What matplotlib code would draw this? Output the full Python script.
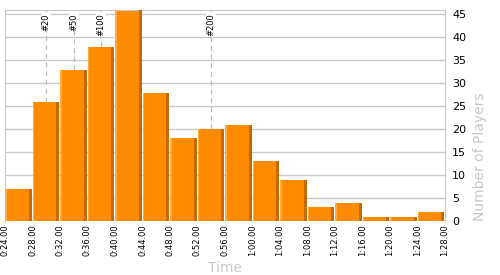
import numpy as np
import matplotlib
matplotlib.use("Agg")
import matplotlib.pyplot as plt

# ===== DATA =====
bin_start = 24          # seconds
bin_width = 4           # seconds
players = [7, 26, 33, 38, 46, 28, 18, 20, 21, 13, 9, 3, 4, 1, 1, 2]
rank_labels = ["#20", "#50", "#100", "#200"]
rank_times = [30.0, 34.0, 38.0, 54.0]   # seconds
y_ticks = [0, 5, 10, 15, 20, 25, 30, 35, 40, 45]

ORANGE = "#ff8c00"
ORANGE_LIGHT = "#ffab45"
ORANGE_DARK = "#c46a00"
GRID = "#c8c8c8"
LABEL = "#c8c8c8"


def fmt_time(sec):
    """0:24.00 style"""
    return "%d:%05.2f" % (sec // 60, sec % 60)


edges = [bin_start + i * bin_width for i in range(len(players) + 1)]

fig = plt.figure(figsize=(5, 2.75), dpi=100)
ax = fig.add_axes([0.01, 0.196, 0.88, 0.768])

# bars with a little fake 3d shading
gap = 0.05
w = bin_width - 2 * gap
ax.bar(edges[:-1], players, width=w, align="edge", color=ORANGE, linewidth=0, zorder=2)
ax.bar([e + gap for e in edges[:-1]], players, width=0.2, align="edge",
       color=ORANGE_LIGHT, linewidth=0, zorder=3)
ax.bar([e + w - 0.45 for e in edges[:-1]], players, width=0.45, align="edge",
       color=ORANGE_DARK, linewidth=0, zorder=3)

# rank markers
for lab, t in zip(rank_labels, rank_times):
    i = int((t - bin_start) // bin_width)
    ax.vlines(t, players[i], 46, colors="#bbbbbb", linestyles=(0, (4, 3)),
              linewidth=0.9, zorder=1)
    ax.text(t, 45.3, lab, rotation=90, ha="center", va="top", fontsize=6,
            color="black", zorder=4,
            bbox=dict(facecolor="white", edgecolor="none", pad=0.5))

ax.set_xlim(edges[0], edges[-1])
ax.set_ylim(0, 46)
ax.set_xticks(edges)
ax.set_xticklabels([fmt_time(e) for e in edges], rotation=90, fontsize=6)
ax.set_yticks(y_ticks)
ax.yaxis.tick_right()
ax.yaxis.set_label_position("right")
ax.tick_params(axis="both", length=0, pad=2)
ax.tick_params(axis="y", labelsize=8, pad=5)
ax.grid(axis="y", color=GRID, linewidth=1, zorder=0)
ax.set_axisbelow(True)

for side in ["left", "right", "top"]:
    ax.spines[side].set_color(GRID)
ax.spines["bottom"].set_visible(False)

ax.set_xlabel("Time", fontsize=10, color=LABEL, labelpad=4)
ax.set_ylabel("Number of Players", fontsize=10, color=LABEL, labelpad=5, loc="bottom")

fig.savefig("out.png", dpi=100)
